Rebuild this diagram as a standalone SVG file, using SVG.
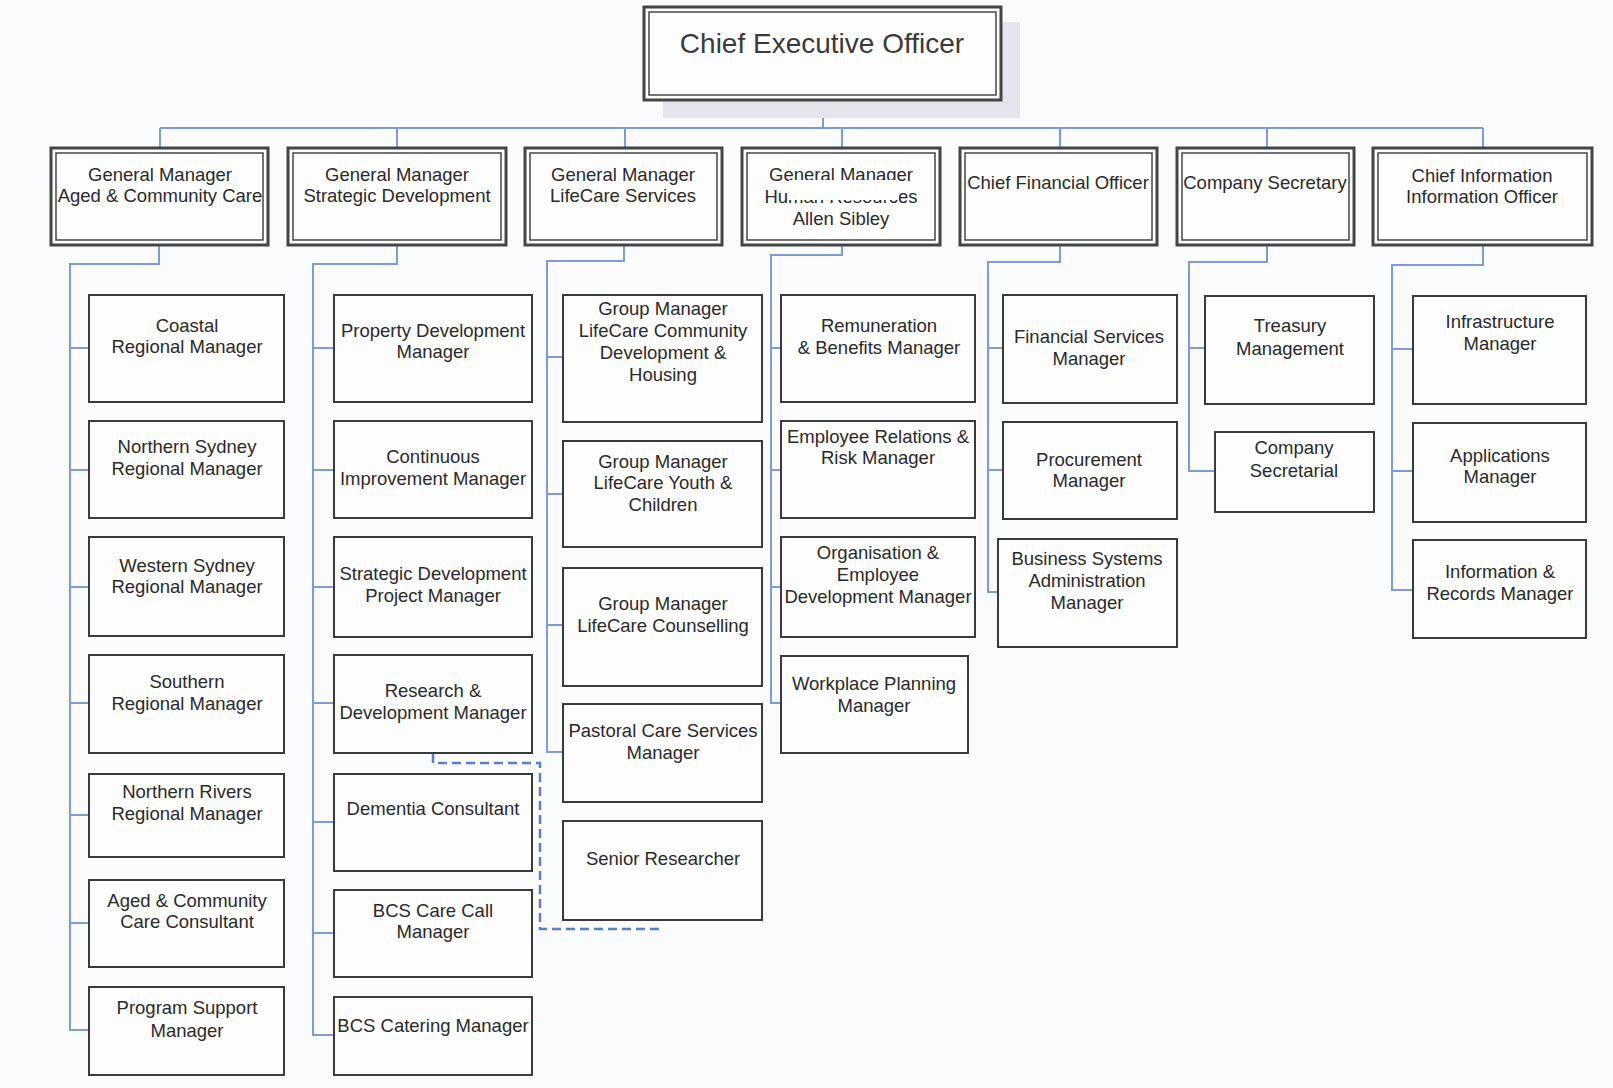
<svg xmlns="http://www.w3.org/2000/svg" width="1613" height="1088" viewBox="0 0 1613 1088">
<style>
.conn{fill:none;stroke:#7e9bd2;stroke-width:2}
.dash{fill:none;stroke:#5b7fc9;stroke-width:2.5;stroke-dasharray:9 5}
.box{fill:#fdfdfd;stroke:#3a3a3a;stroke-width:2}
.go{fill:#fdfdfd;stroke:#454545;stroke-width:3}
.gi{fill:none;stroke:#454545;stroke-width:1.5}
text{font-family:"Liberation Sans",Arial,sans-serif;font-size:18.5px;fill:#2a2a2a;text-anchor:middle}
.ceo{font-size:28px;fill:#3a3a3a}
</style>
<rect width="1613" height="1088" fill="#fafbfc"/>
<g id="connectors">
<path class="conn" d="M823,100V128M160,128H1483M160,128V148M397,128V148M625,128V148M842,128V148M1060,128V148M1267,128V148M1483,128V148"/>
<path class="conn" d="M159,245V264H70V1030H89M70,348H89M70,470H89M70,587H89M70,703H89M70,815H89M70,923H89"/>
<path class="conn" d="M397,245V264H313V1035H334M313,348H334M313,470H334M313,587H334M313,703H334M313,822H334M313,933H334"/>
<path class="conn" d="M624,245V261H547V752H563M547,357H563M547,494H563M547,625H563"/>
<path class="conn" d="M842,245V255H771V703H781M771,348H781M771,470H781M771,587H781"/>
<path class="conn" d="M1060,245V262H988V592H998M988,348H1003M988,470H1003"/>
<path class="conn" d="M1267,245V262H1189V471H1215M1189,348H1205"/>
<path class="conn" d="M1483,245V265H1392V590H1413M1392,349H1413M1392,471H1413"/>
<path class="dash" d="M433,754V763H540V929H663"/>
</g>
<g id="ceo">
<rect x="663" y="22" width="357" height="96" fill="#e4e4ec"/>
<rect class="go" x="644" y="7" width="357" height="93"/>
<rect class="gi" x="649" y="12" width="347" height="83"/>
<text class="ceo" x="822" y="53">Chief Executive Officer</text>
</g>
<g id="gm-aged">
<rect class="go" x="51" y="148" width="217" height="97"/><rect class="gi" x="56" y="153" width="207" height="87"/>
<text x="160" y="181">General Manager</text><text x="160" y="202">Aged &amp; Community Care</text>
</g>
<g id="gm-strategic">
<rect class="go" x="288" y="148" width="218" height="97"/><rect class="gi" x="293" y="153" width="208" height="87"/>
<text x="397" y="181">General Manager</text><text x="397" y="202">Strategic Development</text>
</g>
<g id="gm-lifecare">
<rect class="go" x="525" y="148" width="197" height="97"/><rect class="gi" x="530" y="153" width="187" height="87"/>
<text x="623" y="181">General Manager</text><text x="623" y="202">LifeCare Services</text>
</g>
<g id="gm-hr">
<rect class="go" x="742" y="148" width="198" height="97"/><rect class="gi" x="747" y="153" width="188" height="87"/>
<text x="841" y="181">General Manager</text><text x="841" y="203">Human Resources</text>
<rect x="789" y="180" width="110" height="20" fill="#ffffff"/>
<text x="841" y="225">Allen Sibley</text>
</g>
<g id="cfo">
<rect class="go" x="960" y="148" width="197" height="97"/><rect class="gi" x="965" y="153" width="187" height="87"/>
<text x="1058" y="189">Chief Financial Officer</text>
</g>
<g id="cosec">
<rect class="go" x="1177" y="148" width="177" height="97"/><rect class="gi" x="1182" y="153" width="167" height="87"/>
<text x="1265" y="189">Company Secretary</text>
</g>
<g id="cio">
<rect class="go" x="1373" y="148" width="219" height="97"/><rect class="gi" x="1378" y="153" width="209" height="87"/>
<text x="1482" y="182">Chief Information</text><text x="1482" y="203">Information Officer</text>
</g>
<g id="coastal"><rect class="box" x="89" y="295" width="195" height="107"/><text x="187" y="332">Coastal</text><text x="187" y="353">Regional Manager</text></g>
<g id="northern-sydney"><rect class="box" x="89" y="421" width="195" height="97"/><text x="187" y="453">Northern Sydney</text><text x="187" y="475">Regional Manager</text></g>
<g id="western-sydney"><rect class="box" x="89" y="537" width="195" height="99"/><text x="187" y="572">Western Sydney</text><text x="187" y="593">Regional Manager</text></g>
<g id="southern"><rect class="box" x="89" y="655" width="195" height="98"/><text x="187" y="688">Southern</text><text x="187" y="710">Regional Manager</text></g>
<g id="northern-rivers"><rect class="box" x="89" y="774" width="195" height="83"/><text x="187" y="798">Northern Rivers</text><text x="187" y="820">Regional Manager</text></g>
<g id="acc-consultant"><rect class="box" x="89" y="880" width="195" height="87"/><text x="187" y="907">Aged &amp; Community</text><text x="187" y="928">Care Consultant</text></g>
<g id="program-support"><rect class="box" x="89" y="987" width="195" height="88"/><text x="187" y="1014">Program Support</text><text x="187" y="1037">Manager</text></g>
<g id="property-dev"><rect class="box" x="334" y="295" width="198" height="107"/><text x="433" y="337">Property Development</text><text x="433" y="358">Manager</text></g>
<g id="continuous"><rect class="box" x="334" y="421" width="198" height="97"/><text x="433" y="463">Continuous</text><text x="433" y="485">Improvement Manager</text></g>
<g id="sdpm"><rect class="box" x="334" y="537" width="198" height="100"/><text x="433" y="580">Strategic Development</text><text x="433" y="602">Project Manager</text></g>
<g id="rnd"><rect class="box" x="334" y="655" width="198" height="98"/><text x="433" y="697">Research &amp;</text><text x="433" y="719">Development Manager</text></g>
<g id="dementia"><rect class="box" x="334" y="774" width="198" height="97"/><text x="433" y="815">Dementia Consultant</text></g>
<g id="bcs-care-call"><rect class="box" x="334" y="890" width="198" height="87"/><text x="433" y="917">BCS Care Call</text><text x="433" y="938">Manager</text></g>
<g id="bcs-catering"><rect class="box" x="334" y="997" width="198" height="78"/><text x="433" y="1032">BCS Catering Manager</text></g>
<g id="lc-community"><rect class="box" x="563" y="295" width="199" height="127"/><text x="663" y="315">Group Manager</text><text x="663" y="337">LifeCare Community</text><text x="663" y="359">Development &amp;</text><text x="663" y="381">Housing</text></g>
<g id="lc-youth"><rect class="box" x="563" y="441" width="199" height="106"/><text x="663" y="468">Group Manager</text><text x="663" y="489">LifeCare Youth &amp;</text><text x="663" y="511">Children</text></g>
<g id="lc-counselling"><rect class="box" x="563" y="568" width="199" height="118"/><text x="663" y="610">Group Manager</text><text x="663" y="632">LifeCare Counselling</text></g>
<g id="pastoral"><rect class="box" x="563" y="704" width="199" height="98"/><text x="663" y="737">Pastoral Care Services</text><text x="663" y="759">Manager</text></g>
<g id="senior-researcher"><rect class="box" x="563" y="821" width="199" height="99"/><text x="663" y="865">Senior Researcher</text></g>
<g id="remuneration"><rect class="box" x="781" y="295" width="194" height="107"/><text x="879" y="332">Remuneration</text><text x="879" y="354">&amp; Benefits Manager</text></g>
<g id="employee-relations"><rect class="box" x="781" y="421" width="194" height="97"/><text x="878" y="443">Employee Relations &amp;</text><text x="878" y="464">Risk Manager</text></g>
<g id="org-dev"><rect class="box" x="781" y="537" width="194" height="100"/><text x="878" y="559">Organisation &amp;</text><text x="878" y="581">Employee</text><text x="878" y="603">Development Manager</text></g>
<g id="workplace"><rect class="box" x="781" y="656" width="187" height="97"/><text x="874" y="690">Workplace Planning</text><text x="874" y="712">Manager</text></g>
<g id="financial-services"><rect class="box" x="1003" y="295" width="174" height="108"/><text x="1089" y="343">Financial Services</text><text x="1089" y="365">Manager</text></g>
<g id="procurement"><rect class="box" x="1003" y="422" width="174" height="97"/><text x="1089" y="466">Procurement</text><text x="1089" y="487">Manager</text></g>
<g id="business-systems"><rect class="box" x="998" y="539" width="179" height="108"/><text x="1087" y="565">Business Systems</text><text x="1087" y="587">Administration</text><text x="1087" y="609">Manager</text></g>
<g id="treasury"><rect class="box" x="1205" y="296" width="169" height="108"/><text x="1290" y="332">Treasury</text><text x="1290" y="355">Management</text></g>
<g id="company-secretarial"><rect class="box" x="1215" y="432" width="159" height="80"/><text x="1294" y="454">Company</text><text x="1294" y="477">Secretarial</text></g>
<g id="infrastructure"><rect class="box" x="1413" y="296" width="173" height="108"/><text x="1500" y="328">Infrastructure</text><text x="1500" y="350">Manager</text></g>
<g id="applications"><rect class="box" x="1413" y="423" width="173" height="99"/><text x="1500" y="462">Applications</text><text x="1500" y="483">Manager</text></g>
<g id="info-records"><rect class="box" x="1413" y="540" width="173" height="98"/><text x="1500" y="578">Information &amp;</text><text x="1500" y="600">Records Manager</text></g>
</svg>
